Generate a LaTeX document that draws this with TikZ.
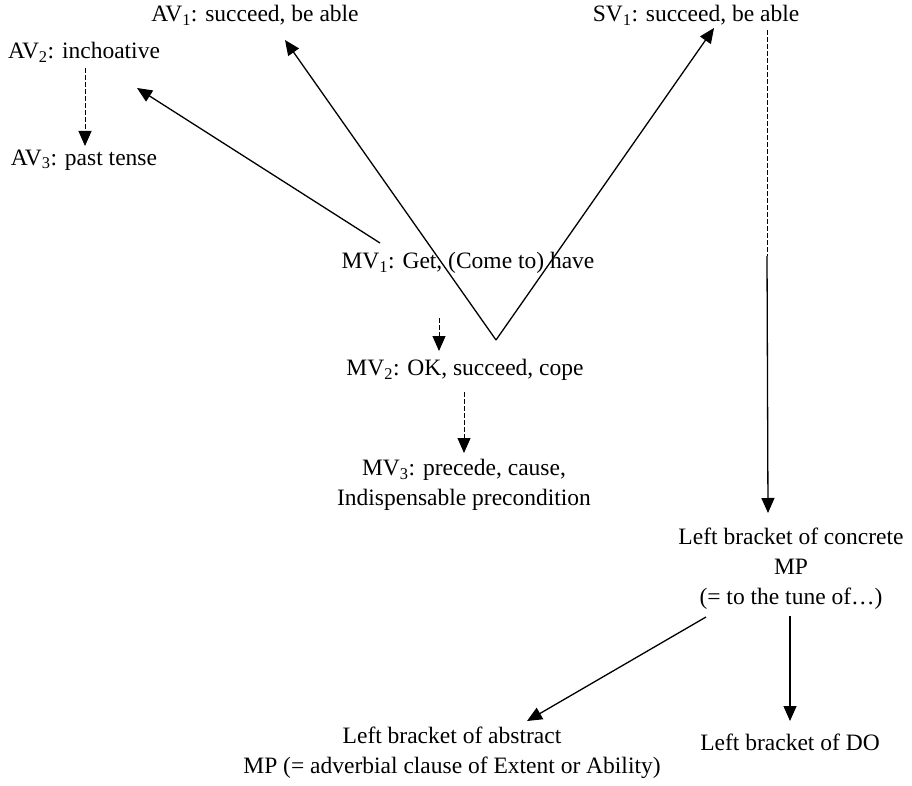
\documentclass[tikz,border=0pt]{standalone}
\usepackage{fontspec}
\setmainfont{Liberation Serif}
\usetikzlibrary{arrows.meta}
\begin{document}
\begin{tikzpicture}[x=1pt,y=-1pt,
  lbl/.style={font=\fontsize{23.5}{30}\selectfont, inner sep=0pt, align=center},
  conn/.style={line width=1.3pt, -{Triangle[length=15pt,width=13pt]}},
  dashline/.style={line width=1pt, dash pattern=on 5pt off 2pt},
  dashconn/.style={line width=1pt, dash pattern=on 5pt off 2pt, -{Triangle[length=15pt,width=13pt]}},
]
\useasboundingbox[fill=white] (0,0) rectangle (912,786);

% verb senses
\node[lbl] (av1) at (255,15) {AV\textsubscript{1}: succeed, be able};
\node[lbl] (av2) at (84,52) {AV\textsubscript{2}: inchoative};
\node[lbl] (av3) at (84,160) {AV\textsubscript{3}: past tense};
\node[lbl] (sv1) at (696,15) {SV\textsubscript{1}: succeed, be able};
\node[lbl] (mv1) at (468,263) {MV\textsubscript{1}: Get, (Come to) have};
\node[lbl] (mv2) at (465,370) {MV\textsubscript{2}: OK, succeed, cope};
\node[lbl] (mv3) at (464,485) {MV\textsubscript{3}: precede, cause,\\Indispensable precondition};

% bracket positions
\node[lbl] (conc) at (791,569) {Left bracket of concrete\\MP\\(= to the tune of\dots)};
\node[lbl] (abs) at (452,753) {Left bracket of abstract\\MP (= adverbial clause of Extent or Ability)};
\node[lbl] (dobj) at (790,742) {Left bracket of DO};

% connector end points
\coordinate (av2s) at (85,68);
\coordinate (av3e) at (85,146);
\coordinate (mv1l) at (380,243);
\coordinate (av2e) at (137,88);
\coordinate (vtx) at (496,340);
\coordinate (av1e) at (285,40);
\coordinate (sv1e) at (714,28);
\coordinate (mv1s) at (439,318);
\coordinate (mv2e) at (439,351);
\coordinate (mv2s) at (464,392);
\coordinate (mv3e) at (464,453);
\coordinate (sv1s) at (767,30);
\coordinate (brk) at (767,256);
\coordinate (concn) at (768,513);
\coordinate (concl) at (706,617);
\coordinate (abse) at (527,721);
\coordinate (concd) at (790,616);
\coordinate (doe) at (790,721);

% connectors
\draw[dashconn] (av2s) -- (av3e);
\draw[conn] (mv1l) -- (av2e);
\draw[conn] (vtx) -- (av1e);
\draw[conn] (vtx) -- (sv1e);
\draw[dashconn] (mv1s) -- (mv2e);
\draw[dashconn] (mv2s) -- (mv3e);
\draw[dashline] (sv1s) -- (brk);
\draw[conn] (brk) -- (concn);
\draw[conn] (concl) -- (abse);
\draw[conn] (concd) -- (doe);
\end{tikzpicture}
\end{document}
